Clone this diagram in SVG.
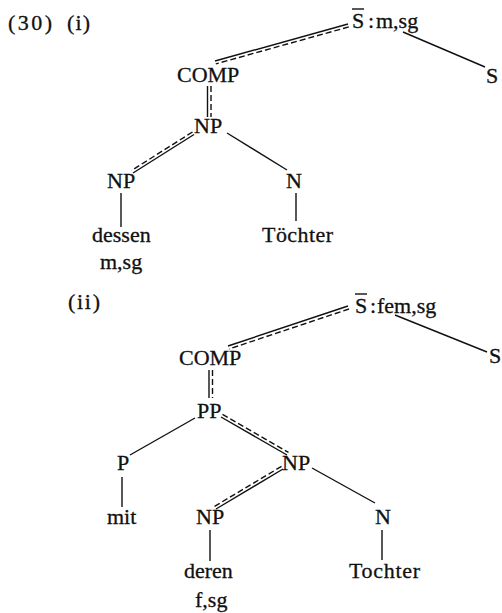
<svg xmlns="http://www.w3.org/2000/svg" width="502" height="613" viewBox="0 0 502 613">
<style>
  text { font-family: "Liberation Serif", "Times New Roman", serif; font-size: 22px; fill: #111; stroke: #111; stroke-width: 0.3; }
  .ln { stroke: #111; stroke-width: 1.4; fill: none; }
  .ds { stroke: #111; stroke-width: 1.4; fill: none; stroke-dasharray: 6 3; }
</style>
<rect width="502" height="613" fill="#fff"/>

<g id="label-30"><text x="8" y="30" textLength="44">(30)</text><text x="67" y="30" textLength="23">(i)</text></g>

<!-- tree (i) -->
<g id="i-Sbar"><text x="352" y="28">S</text><line class="ln" x1="352" y1="9" x2="364" y2="9"/><text x="368" y="28">:</text><text x="376" y="28">m,sg</text></g>
<g id="i-S"><text x="486" y="83">S</text></g>
<g id="i-COMP"><text x="177" y="82">COMP</text></g>
<g id="i-NP"><text x="194" y="133">NP</text></g>
<g id="i-NP2"><text x="107" y="188">NP</text></g>
<g id="i-N"><text x="286" y="188">N</text></g>
<g id="i-dessen"><text x="92" y="242">dessen</text></g>
<g id="i-Toechter"><text x="262" y="242" textLength="71">Töchter</text></g>
<g id="i-msg"><text x="100" y="269">m,sg</text></g>

<!-- tree (ii) -->
<g id="label-ii"><text x="68" y="309" textLength="32">(ii)</text></g>
<g id="ii-Sbar"><text x="355" y="313">S</text><line class="ln" x1="355" y1="294" x2="367" y2="294"/><text x="370" y="313">:</text><text x="377" y="313">fem,sg</text></g>
<g id="ii-S"><text x="489" y="363">S</text></g>
<g id="ii-COMP"><text x="179" y="365">COMP</text></g>
<g id="ii-PP"><text x="197" y="418">PP</text></g>
<g id="ii-P"><text x="117" y="470">P</text></g>
<g id="ii-NP"><text x="282" y="470">NP</text></g>
<g id="ii-mit"><text x="107" y="524">mit</text></g>
<g id="ii-NP2"><text x="196" y="524">NP</text></g>
<g id="ii-N"><text x="375" y="524">N</text></g>
<g id="ii-deren"><text x="184" y="578">deren</text></g>
<g id="ii-Tochter"><text x="349" y="578" textLength="71">Tochter</text></g>
<g id="ii-fsg"><text x="195" y="607">f,sg</text></g>

<g id="connectors">
  <!-- (i) -->
  <line class="ln" x1="348" y1="24" x2="215" y2="61"/>
  <line class="ds" x1="348.8" y1="26.9" x2="215.8" y2="63.9"/>
  <line class="ln" x1="403" y1="32" x2="485" y2="67"/>
  <line class="ln" x1="207.5" y1="86" x2="207.5" y2="117"/>
  <line class="ds" x1="211" y1="86" x2="211" y2="117"/>
  <line class="ln" x1="194" y1="134.5" x2="133" y2="173"/>
  <line class="ds" x1="192.5" y1="132" x2="131.5" y2="170.5"/>
  <line class="ln" x1="227" y1="133" x2="287" y2="170"/>
  <line class="ln" x1="121" y1="193" x2="121" y2="227"/>
  <line class="ln" x1="296" y1="193" x2="296" y2="221"/>
  <!-- (ii) -->
  <line class="ln" x1="348" y1="306" x2="228" y2="346"/>
  <line class="ds" x1="349" y1="309" x2="229" y2="349"/>
  <line class="ln" x1="395" y1="315" x2="487" y2="352"/>
  <line class="ln" x1="209" y1="370" x2="209" y2="398"/>
  <line class="ds" x1="212.5" y1="370" x2="212.5" y2="398"/>
  <line class="ln" x1="195" y1="418" x2="130" y2="455"/>
  <line class="ln" x1="221" y1="417" x2="287" y2="455"/>
  <line class="ds" x1="222.5" y1="414.4" x2="288.5" y2="452.4"/>
  <line class="ln" x1="283" y1="469" x2="216" y2="509"/>
  <line class="ds" x1="281.5" y1="466.4" x2="214.5" y2="506.4"/>
  <line class="ln" x1="312" y1="468" x2="375" y2="503"/>
  <line class="ln" x1="122" y1="477" x2="122" y2="507"/>
  <line class="ln" x1="210" y1="530" x2="210" y2="561"/>
  <line class="ln" x1="382" y1="530" x2="382" y2="560"/>
</g>
</svg>
